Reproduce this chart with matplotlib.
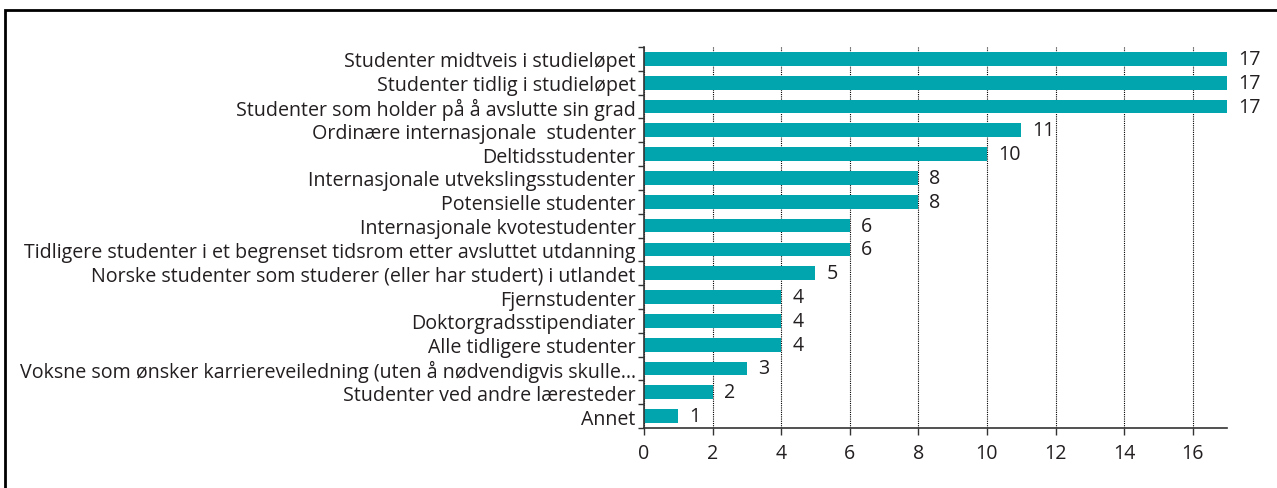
import matplotlib.pyplot as plt
import matplotlib.patches as mpatches
import numpy as np

# data (top to bottom as in the chart)
kategorier = [
    "Studenter midtveis i studieløpet",
    "Studenter tidlig i studieløpet",
    "Studenter som holder på å avslutte sin grad",
    "Ordinære internasjonale  studenter",
    "Deltidsstudenter",
    "Internasjonale utvekslingsstudenter",
    "Potensielle studenter",
    "Internasjonale kvotestudenter",
    "Tidligere studenter i et begrenset tidsrom etter avsluttet utdanning",
    "Norske studenter som studerer (eller har studert) i utlandet",
    "Fjernstudenter",
    "Doktorgradsstipendiater",
    "Alle tidligere studenter",
    "Voksne som ønsker karriereveiledning (uten å nødvendigvis skulle…",
    "Studenter ved andre læresteder",
    "Annet",
]
antall = [17, 17, 17, 11, 10, 8, 8, 6, 6, 5, 4, 4, 4, 3, 2, 1]
xticks = [0, 2, 4, 6, 8, 10, 12, 14, 16]

plt.rcParams['font.family'] = ['Open Sans', 'DejaVu Sans']
tekstfarge = "#231f20"
farge = "#00a5ad"
fs = 14.1

fig = plt.figure(figsize=(12.77, 4.89), dpi=100)
ax = fig.add_axes([644/1277, 60/489, (1227-644)/1277, (429-48)/489])

y = np.arange(len(kategorier))
ax.barh(y, antall, height=0.58, color=farge, zorder=2)
for yi, v in zip(y, antall):
    ax.annotate(str(v), (v, yi), xytext=(8, 0), textcoords="offset points",
                va="center", ha="left", fontsize=fs, color=tekstfarge)

ax.set_xlim(0, 17)
ax.set_ylim(len(kategorier) - 0.5, -0.5)
ax.set_yticks(y)
ax.set_yticklabels(kategorier, fontsize=fs, color=tekstfarge)
ax.set_yticks(np.arange(-0.5, len(kategorier)), minor=True)
ax.tick_params(axis="y", which="major", length=0, pad=6)
ax.tick_params(axis="y", which="minor", length=4, width=1, color="#333333")
ax.set_xticks(xticks)
ax.tick_params(axis="x", length=5, width=1, color="#333333", labelsize=fs,
               labelcolor=tekstfarge, pad=6)

ax.grid(axis="x", linestyle=(0, (1, 1)), color="black", linewidth=0.8, zorder=0)
ax.set_axisbelow(True)
for s in ["top", "right"]:
    ax.spines[s].set_visible(False)
for s in ["left", "bottom"]:
    ax.spines[s].set_color("#333333")
    ax.spines[s].set_linewidth(1.2)

# ramme rundt figuren
fig.patches.append(mpatches.Rectangle((5/1277, -0.5), 1.5, (489-11)/489 + 0.5,
                                      transform=fig.transFigure, fill=False,
                                      edgecolor="black", linewidth=2))

fig.savefig("out.png", dpi=100)
